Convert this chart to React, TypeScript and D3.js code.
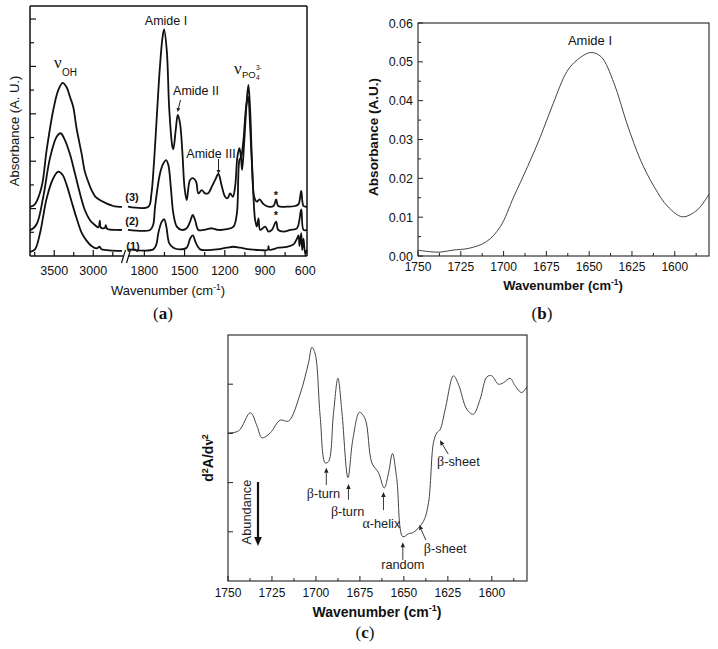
import React from "react";
import * as d3 from "d3";

type Pt = [number, number];

// ---------- Panel (a): FTIR spectra, broken wavenumber axis ----------
// high-wavenumber segment
const a3High: Pt[] = [[3810,2.08],[3801,2.08],[3746,2.19],[3661,2.92],[3597,4.47],[3512,6.16],[3448,7.0],[3392,7.31],[3341,7.12],[3299,6.72],[3257,6.3],[3214,5.39],[3150,4.33],[3108,3.56],[3065,3.14],[3022,2.78],[2967,2.48],[2916,2.36],[2852,2.25],[2746,2.11],[2690,2.08],[2632,2.07]];
const a2High: Pt[] = [[3810,1.10],[3801,1.10],[3724,1.35],[3640,2.50],[3555,4.12],[3469,5.03],[3418,5.18],[3363,4.89],[3299,4.30],[3235,3.49],[3171,2.65],[3108,1.94],[3044,1.52],[2980,1.31],[2933,1.21],[2916,1.49],[2903,1.2],[2852,1.18],[2840,1.3],[2823,1.15],[2690,1.10],[2632,1.10]];
const a1High: Pt[] = [[3810,0.18],[3801,0.18],[3746,0.28],[3682,0.96],[3597,2.43],[3512,3.28],[3448,3.56],[3392,3.42],[3341,3.0],[3278,2.30],[3214,1.60],[3150,0.99],[3086,0.65],[3022,0.42],[2958,0.32],[2916,0.39],[2895,0.28],[2831,0.25],[2690,0.22],[2632,0.22]];
// low-wavenumber segment
const a3Low: Pt[] = [[1922,2.08],[1770,2.08],[1748,2.6],[1730,3.8],[1708,5.8],[1685,7.9],[1665,9.2],[1653,9.56],[1633,8.69],[1614,6.16],[1591,4.61],[1584,4.50],[1566,5.32],[1551,5.95],[1534,5.60],[1516,4.33],[1501,2.93],[1484,2.36],[1459,3.21],[1434,3.28],[1414,3.14],[1397,2.64],[1372,2.78],[1347,2.64],[1322,2.66],[1297,2.93],[1272,3.21],[1248,3.46],[1222,2.93],[1198,2.50],[1180,2.43],[1160,2.64],[1140,2.50],[1123,2.93],[1106,4.19],[1091,4.55],[1080,4.19],[1071,3.63],[1056,4.75],[1036,6.58],[1024,7.22],[1011,6.16],[996,3.77],[981,2.50],[961,2.29],[941,2.39],[911,2.19],[874,2.08],[837,2.11],[817,2.39],[802,2.11],[737,2.08],[675,2.11],[650,2.19],[630,2.75],[613,2.11],[587,2.08]];
const a2Low: Pt[] = [[1922,1.10],[1758,1.10],[1735,1.3],[1720,2.08],[1683,3.49],[1658,3.91],[1638,4.05],[1621,3.84],[1603,2.93],[1584,1.80],[1558,1.24],[1521,1.10],[1484,1.17],[1459,1.45],[1439,1.73],[1422,1.52],[1397,1.10],[1360,1.10],[1334,1.13],[1297,1.17],[1248,1.10],[1185,1.13],[1135,1.24],[1110,1.80],[1091,4.05],[1078,4.19],[1061,4.89],[1041,6.30],[1026,6.72],[1011,5.46],[991,3.07],[974,1.52],[961,1.24],[949,1.59],[936,1.10],[899,1.24],[874,1.03],[849,1.10],[817,1.45],[802,1.10],[762,1.03],[712,1.10],[662,1.17],[630,1.97],[613,1.10],[587,1.10]];
const a1Low: Pt[] = [[1922,0.28],[1733,0.28],[1710,0.5],[1696,0.96],[1670,1.45],[1652,1.55],[1636,1.24],[1614,0.53],[1584,0.35],[1534,0.28],[1484,0.35],[1459,0.73],[1439,0.87],[1414,0.53],[1384,0.28],[1334,0.25],[1260,0.28],[1185,0.35],[1135,0.39],[1086,0.35],[1011,0.28],[936,0.25],[880,0.26],[874,0.42],[868,0.26],[800,0.35],[737,0.39],[687,0.49],[662,0.73],[650,0.87],[643,0.42],[630,0.96],[623,0.25],[613,0.73],[600,0.11],[587,0.25]];
const aHighDomain = [3810, 2632];
const aLowDomain = [1922, 587];
const aHighMajor = [3500, 3000];
const aHighMinor = [3750, 3250, 2750];
const aLowMajor = [1800, 1500, 1200, 900, 600];
const aLowMinor = [1650, 1350, 1050, 750];
const aYTicks = [1, 2, 3, 4, 5, 6, 7, 8, 9, 10];

// ---------- Panel (b): Amide I absorbance ----------
const bWavenumber = [1750,1745,1737,1730,1720,1710,1702,1694,1686,1678.5,1671,1663,1657,1649,1643,1635.5,1628,1620,1612,1604,1595.5,1587,1580];
const bAbsorbance = [0.0015,0.0012,0.001,0.0015,0.002,0.0037,0.0075,0.0153,0.023,0.0307,0.0393,0.0475,0.0505,0.0524,0.0513,0.0445,0.0342,0.0247,0.0178,0.0127,0.0101,0.0118,0.0159];
const bXMajor = [1750, 1725, 1700, 1675, 1650, 1625, 1600];
const bXMinor = [1737.5, 1712.5, 1687.5, 1662.5, 1637.5, 1612.5, 1587.5];
const bYMajor = [0, 0.01, 0.02, 0.03, 0.04, 0.05, 0.06];
const bYMinor = [0.005, 0.015, 0.025, 0.035, 0.045, 0.055];

// ---------- Panel (c): second derivative ----------
const cWavenumber = [1750,1744,1737.3,1733.5,1730.7,1726,1720.3,1715.6,1709,1704.2,1702.3,1700.4,1697.6,1694.7,1692.8,1690,1687.5,1685.2,1681.8,1679,1675.2,1672,1668.2,1664.4,1661.2,1658.7,1656.5,1654,1650.6,1647.4,1644.5,1638.9,1636,1633.2,1631.3,1629.4,1626.5,1621.8,1619,1614.2,1610.5,1606.7,1602.8,1600,1596.3,1593.4,1589.6,1586.8,1583,1580];
const cD2 = [3.01,3.05,3.42,3.15,2.91,3.01,3.27,3.25,3.80,4.44,4.75,4.61,3.35,2.40,2.43,3.42,4.12,3.42,2.10,2.88,3.43,3.29,2.40,2.20,1.89,2.20,2.59,2.06,0.90,0.96,0.99,1.21,1.59,2.81,3.01,3.08,3.49,4.17,4.0,3.49,3.39,3.69,4.15,4.17,4.0,4.03,4.12,3.97,3.83,3.95];
const cXMajor = [1750, 1725, 1700, 1675, 1650, 1625, 1600];
const cXMinor = [1737.5, 1712.5, 1687.5, 1662.5, 1637.5, 1612.5, 1587.5];
const cYTicks = [1, 2, 3, 4];
// annotations in data units: label position, arrow tail and tip
const cNotes: { g: string; t: string; lx: number; ly: number; x1: number; y1: number; x2: number; y2: number }[] = [
  { g: "β", t: "-turn", lx: 1695.7, ly: 1.68, x1: 1694.1, y1: 1.95, x2: 1694.1, y2: 2.30 },
  { g: "β", t: "-turn", lx: 1682.0, ly: 1.33, x1: 1681.5, y1: 1.65, x2: 1681.5, y2: 1.97 },
  { g: "α", t: "-helix", lx: 1662.8, ly: 1.08, x1: 1661.6, y1: 1.44, x2: 1661.6, y2: 1.81 },
  { g: "", t: "random", lx: 1650.6, ly: 0.24, x1: 1650.6, y1: 0.43, x2: 1650.6, y2: 0.79 },
  { g: "β", t: "-sheet", lx: 1626.5, ly: 0.57, x1: 1637.5, y1: 0.83, x2: 1641.3, y2: 1.14 },
  { g: "β", t: "-sheet", lx: 1619, ly: 2.34, x1: 1624.8, y1: 2.58, x2: 1629.5, y2: 2.86 },
];

const SANS = "Arial, 'Liberation Sans', Helvetica, sans-serif";
const SERIF = "'Times New Roman', 'Liberation Serif', serif";

function Arrow({ x1, y1, x2, y2, w = 1, head = 5, hw = 2.3, color = "#222" }: any) {
  const a = Math.atan2(y2 - y1, x2 - x1);
  const bx = x2 - head * Math.cos(a);
  const by = y2 - head * Math.sin(a);
  const px = -Math.sin(a) * hw;
  const py = Math.cos(a) * hw;
  return (
    <g>
      <line x1={x1} y1={y1} x2={bx} y2={by} stroke={color} strokeWidth={w} />
      <polygon points={`${x2},${y2} ${bx + px},${by + py} ${bx - px},${by - py}`} fill={color} />
    </g>
  );
}

function WavTitle({ x, y, size, bold }: any) {
  return (
    <text x={x} y={y} textAnchor="middle" fontFamily={SANS} fontSize={size} fontWeight={bold ? "bold" : "normal"} fill="#111">
      Wavenumber (cm<tspan fontSize={size * 0.65} dy={-size * 0.42}>-1</tspan><tspan dy={size * 0.42}>)</tspan>
    </text>
  );
}

function PanelA() {
  const L = 30, R = 307, T = 6, B = 256;
  const xHi = d3.scaleLinear().domain(aHighDomain).range([L, 122]);
  const xLo = d3.scaleLinear().domain(aLowDomain).range([128, R]);
  const y = d3.scaleLinear().domain([0, 10.55]).range([B, T]);
  const curve = d3.curveCatmullRom.alpha(0.5);
  const lineHi = d3.line<Pt>().x((d) => xHi(d[0])).y((d) => y(d[1])).curve(curve);
  const lineLo = d3.line<Pt>().x((d) => xLo(d[0])).y((d) => y(d[1])).curve(curve);
  const stroke = "#111";
  return (
    <g>
      {[a1High, a2High, a3High].map((d, i) => (
        <path key={"h" + i} d={lineHi(d) || ""} fill="none" stroke={stroke} strokeWidth={1.8} strokeLinejoin="round" />
      ))}
      {[a1Low, a2Low, a3Low].map((d, i) => (
        <path key={"l" + i} d={lineLo(d) || ""} fill="none" stroke={stroke} strokeWidth={1.8} strokeLinejoin="round" />
      ))}
      {/* frame */}
      <line x1={L} y1={T} x2={R} y2={T} stroke={stroke} strokeWidth={1.5} />
      <line x1={L} y1={T} x2={L} y2={B} stroke={stroke} strokeWidth={1.5} />
      <line x1={R} y1={T} x2={R} y2={B} stroke={stroke} strokeWidth={1.5} />
      <line x1={L} y1={B} x2={123.5} y2={B} stroke={stroke} strokeWidth={1.5} />
      <line x1={128.5} y1={B} x2={R} y2={B} stroke={stroke} strokeWidth={1.5} />
      <line x1={121.5} y1={263} x2={125.5} y2={250} stroke={stroke} strokeWidth={1.2} />
      <line x1={126.5} y1={263} x2={130.5} y2={250} stroke={stroke} strokeWidth={1.2} />
      {/* y ticks */}
      {aYTicks.map((t) => (
        <line key={t} x1={L} x2={L + (t % 2 === 0 ? 6 : 4)} y1={y(t)} y2={y(t)} stroke={stroke} strokeWidth={1.2} />
      ))}
      {/* x ticks */}
      {aHighMajor.map((t) => <line key={"hm" + t} x1={xHi(t)} x2={xHi(t)} y1={B} y2={B - 6} stroke={stroke} strokeWidth={1.2} />)}
      {aHighMinor.map((t) => <line key={"hn" + t} x1={xHi(t)} x2={xHi(t)} y1={B} y2={B - 4} stroke={stroke} strokeWidth={1.2} />)}
      {aLowMajor.map((t) => <line key={"lm" + t} x1={xLo(t)} x2={xLo(t)} y1={B} y2={B - 6} stroke={stroke} strokeWidth={1.2} />)}
      {aLowMinor.map((t) => <line key={"ln" + t} x1={xLo(t)} x2={xLo(t)} y1={B} y2={B - 4} stroke={stroke} strokeWidth={1.2} />)}
      {aHighMajor.map((t) => (
        <text key={"ht" + t} x={xHi(t)} y={275} textAnchor="middle" fontFamily={SANS} fontSize={12.5} fill="#111">{t}</text>
      ))}
      {aLowMajor.map((t) => (
        <text key={"lt" + t} x={xLo(t)} y={275} textAnchor="middle" fontFamily={SANS} fontSize={12.5} fill="#111">{t}</text>
      ))}
      <WavTitle x={168} y={295} size={13} />
      <text transform="translate(19,131) rotate(-90)" textAnchor="middle" fontFamily={SANS} fontSize={13} fill="#111">Absorbance (A. U.)</text>
      {/* annotations */}
      <text x={54} y={68} fontFamily={SERIF} fontSize={17} fill="#111">ν</text>
      <text x={62} y={76} fontFamily={SANS} fontSize={10} fill="#111">OH</text>
      <text x={166} y={25} textAnchor="middle" fontFamily={SANS} fontSize={12.5} fill="#111">Amide I</text>
      <text x={196} y={95} textAnchor="middle" fontFamily={SANS} fontSize={12.5} fill="#111">Amide II</text>
      <Arrow x1={180.5} y1={100} x2={177.5} y2={112} w={1} head={4} hw={2} />
      <text x={211} y={158} textAnchor="middle" fontFamily={SANS} fontSize={12.5} fill="#111">Amide III</text>
      <Arrow x1={218.5} y1={159} x2={218.5} y2={174} w={1} head={4} hw={2} />
      <text x={234} y={74} fontFamily={SERIF} fontSize={17} fill="#111">ν</text>
      <text x={242} y={78} fontFamily={SANS} fontSize={9.5} fill="#111">PO</text>
      <text x={256} y={70} fontFamily={SANS} fontSize={6.5} fill="#111">3-</text>
      <text x={256} y={80} fontFamily={SANS} fontSize={6.5} fill="#111">4</text>
      <text x={132} y={201} textAnchor="middle" fontFamily={SANS} fontSize={11} fontWeight="bold" fill="#111">(3)</text>
      <text x={132} y={225} textAnchor="middle" fontFamily={SANS} fontSize={11} fontWeight="bold" fill="#111">(2)</text>
      <text x={133} y={250} textAnchor="middle" fontFamily={SANS} fontSize={11} fontWeight="bold" fill="#111">(1)</text>
      <text x={276} y={199} textAnchor="middle" fontFamily={SANS} fontSize={11} fontWeight="bold" fill="#111">*</text>
      <text x={276} y={219} textAnchor="middle" fontFamily={SANS} fontSize={11} fontWeight="bold" fill="#111">*</text>
    </g>
  );
}

function PanelB() {
  const L = 418, R = 709, T = 23, B = 256;
  const x = d3.scaleLinear().domain([1750, 1580]).range([L, R]);
  const y = d3.scaleLinear().domain([0, 0.06]).range([B, T]);
  const data: Pt[] = bWavenumber.map((w, i) => [w, bAbsorbance[i]]);
  const line = d3.line<Pt>().x((d) => x(d[0])).y((d) => y(d[1])).curve(d3.curveCatmullRom.alpha(0.5));
  const c = "#222";
  return (
    <g>
      <path d={line(data) || ""} fill="none" stroke="#444" strokeWidth={1} />
      <rect x={L} y={T} width={R - L} height={B - T} fill="none" stroke={c} strokeWidth={1.1} />
      {bXMajor.map((t) => <line key={"xm" + t} x1={x(t)} x2={x(t)} y1={B} y2={B - 5} stroke={c} />)}
      {bXMinor.map((t) => <line key={"xn" + t} x1={x(t)} x2={x(t)} y1={B} y2={B - 3} stroke={c} />)}
      {bYMajor.map((t) => <line key={"ym" + t} x1={L} x2={L + 5} y1={y(t)} y2={y(t)} stroke={c} />)}
      {bYMinor.map((t) => <line key={"yn" + t} x1={L} x2={L + 3} y1={y(t)} y2={y(t)} stroke={c} />)}
      {bXMajor.map((t) => (
        <text key={"xt" + t} x={x(t)} y={271} textAnchor="middle" fontFamily={SANS} fontSize={12} fill="#111">{t}</text>
      ))}
      {bYMajor.map((t) => (
        <text key={"yt" + t} x={413} y={y(t) + 4.5} textAnchor="end" fontFamily={SANS} fontSize={12.5} fill="#111">{t.toFixed(2)}</text>
      ))}
      <WavTitle x={563} y={290} size={13} bold />
      <text transform="translate(378,137) rotate(-90)" textAnchor="middle" fontFamily={SANS} fontSize={13.5} fontWeight="bold" fill="#111">Absorbance (A.U.)</text>
      <text x={590} y={45} textAnchor="middle" fontFamily={SANS} fontSize={13} fill="#111">Amide I</text>
    </g>
  );
}

function PanelC() {
  const L = 228, R = 527, T = 335, B = 581;
  const x = d3.scaleLinear().domain([1750, 1580]).range([L, R]);
  const y = d3.scaleLinear().domain([0, 5]).range([B, T]);
  const data: Pt[] = cWavenumber.map((w, i) => [w, cD2[i]]);
  const line = d3.line<Pt>().x((d) => x(d[0])).y((d) => y(d[1])).curve(d3.curveCatmullRom.alpha(0.5));
  const c = "#222";
  return (
    <g>
      <path d={line(data) || ""} fill="none" stroke="#444" strokeWidth={1} />
      <rect x={L} y={T} width={R - L} height={B - T} fill="none" stroke={c} strokeWidth={1.1} />
      {cXMajor.map((t) => <line key={"xm" + t} x1={x(t)} x2={x(t)} y1={B} y2={B - 5} stroke={c} />)}
      {cXMinor.map((t) => <line key={"xn" + t} x1={x(t)} x2={x(t)} y1={B} y2={B - 3} stroke={c} />)}
      {cYTicks.map((t) => <line key={"ym" + t} x1={L} x2={L + 5} y1={y(t)} y2={y(t)} stroke={c} />)}
      {cXMajor.map((t) => (
        <text key={"xt" + t} x={x(t)} y={597} textAnchor="middle" fontFamily={SANS} fontSize={12} fill="#111">{t}</text>
      ))}
      <WavTitle x={377} y={617} size={14} bold />
      <text transform="translate(213,458) rotate(-90)" textAnchor="middle" fontFamily={SANS} fontSize={14} fontWeight="bold" fill="#111">
        d<tspan fontSize={9} dy={-5}>2</tspan><tspan dy={5}>A/d</tspan><tspan fontFamily={SERIF}>ν</tspan><tspan fontSize={9} dy={-5}>2</tspan>
      </text>
      {cNotes.map((n, i) => (
        <g key={i}>
          <Arrow x1={x(n.x1)} y1={y(n.y1)} x2={x(n.x2)} y2={y(n.y2)} w={0.9} head={5} hw={2.2} />
          <text x={x(n.lx)} y={y(n.ly)} textAnchor="middle" fontFamily={SANS} fontSize={12.8} fill="#222">
            {n.g ? <tspan fontFamily={SERIF} fontSize={14}>{n.g}</tspan> : null}{n.t}
          </text>
        </g>
      ))}
      <text transform="translate(251,512) rotate(-90)" textAnchor="middle" fontFamily={SANS} fontSize={12.8} fill="#222">Abundance</text>
      <Arrow x1={258} y1={482} x2={258} y2={546} w={2.2} head={9} hw={3.8} color="#111" />
    </g>
  );
}

function Caption({ x, y, letter }: any) {
  return (
    <text x={x} y={y} textAnchor="middle" fontFamily={SERIF} fontSize={17} fill="#111">
      (<tspan fontWeight="bold">{letter}</tspan>)
    </text>
  );
}

export default function App() {
  return (
    <svg width={718} height={649} viewBox="0 0 718 649" style={{ position: "absolute", left: 0, top: 0, background: "#fff" }}>
      <rect x={0} y={0} width={718} height={649} fill="#fff" />
      <PanelA />
      <PanelB />
      <PanelC />
      <Caption x={163} y={319} letter="a" />
      <Caption x={542} y={319} letter="b" />
      <Caption x={365} y={638} letter="c" />
    </svg>
  );
}
